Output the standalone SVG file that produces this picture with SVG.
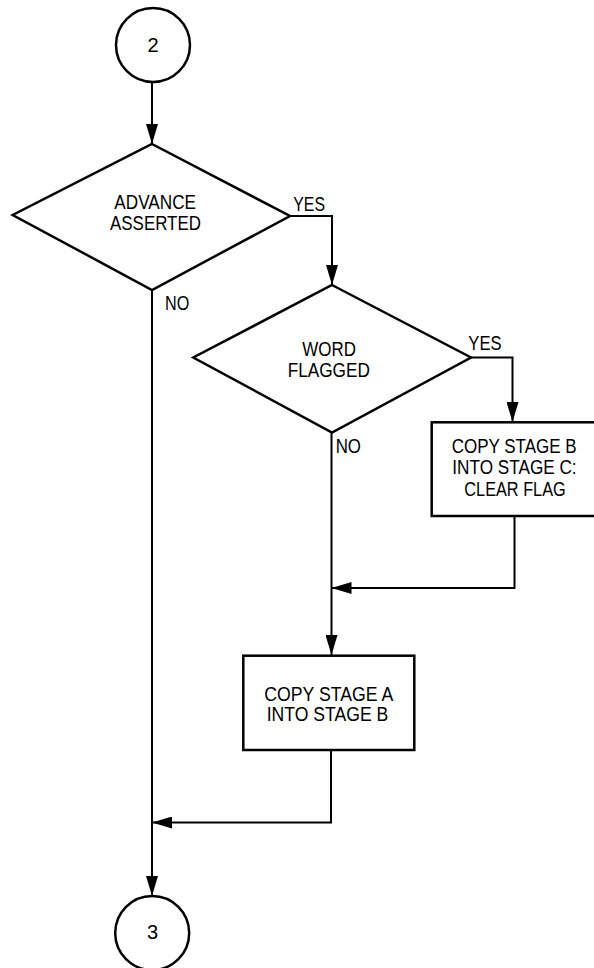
<svg xmlns="http://www.w3.org/2000/svg" width="594" height="968" viewBox="0 0 594 968">
<style>
.shape{fill:#fff;stroke:#000;stroke-width:2.5}
.conn{fill:none;stroke:#000;stroke-width:2}
text{font-family:"Liberation Sans",Arial,sans-serif;font-size:20px;fill:#000}
.c{text-anchor:middle}
</style>
<defs>
<marker id="arr" markerUnits="userSpaceOnUse" markerWidth="21" markerHeight="12" refX="20" refY="6" orient="auto">
<path d="M0,0 L20,6 L0,12 z" fill="#000"/>
</marker>
</defs>
<g id="connectors">
<path class="conn" d="M152,82 L152,144" marker-end="url(#arr)"/>
<path class="conn" d="M290,216 L332,216 L332,285" marker-end="url(#arr)"/>
<path class="conn" d="M152,290 L152,896" marker-end="url(#arr)"/>
<path class="conn" d="M471,357.5 L512.5,357.5 L512.5,422" marker-end="url(#arr)"/>
<path class="conn" d="M331.5,432.5 L331.5,655" marker-end="url(#arr)"/>
<path class="conn" d="M514.5,516 L514.5,588 L331.5,588" marker-end="url(#arr)"/>
<path class="conn" d="M331,750 L331,822.5 L152,822.5" marker-end="url(#arr)"/>
<text x="293.3" y="210.7" textLength="31.7" lengthAdjust="spacingAndGlyphs">YES</text>
<text x="165" y="310" textLength="24.3" lengthAdjust="spacingAndGlyphs">NO</text>
<text x="468.3" y="350" textLength="33.3" lengthAdjust="spacingAndGlyphs">YES</text>
<text x="335.7" y="453.3" textLength="25.3" lengthAdjust="spacingAndGlyphs">NO</text>
</g>
<g id="start">
<circle class="shape" cx="153" cy="45" r="37" stroke-width="2"/>
<text class="c" x="153" y="51.5">2</text>
</g>
<g id="advance">
<polygon class="shape" points="152,144 290,216 152,290 12.7,215"/>
<text class="c" x="155.2" y="208.5" textLength="81.7" lengthAdjust="spacingAndGlyphs">ADVANCE</text>
<text class="c" x="155.5" y="230" textLength="91" lengthAdjust="spacingAndGlyphs">ASSERTED</text>
</g>
<g id="flagged">
<polygon class="shape" points="332,285 471,357.5 332,432.5 193.3,357.5"/>
<text class="c" x="329.2" y="356" textLength="53.7" lengthAdjust="spacingAndGlyphs">WORD</text>
<text class="c" x="328.8" y="376.7" textLength="82.3" lengthAdjust="spacingAndGlyphs">FLAGGED</text>
</g>
<g id="copyBC">
<rect class="shape" x="431.7" y="422.3" width="165" height="93.7"/>
<text class="c" x="514.2" y="453.3" textLength="125" lengthAdjust="spacingAndGlyphs">COPY STAGE B</text>
<text class="c" x="514.5" y="474.3" textLength="124.3" lengthAdjust="spacingAndGlyphs">INTO STAGE C:</text>
<text class="c" x="515" y="495.7" textLength="101.3" lengthAdjust="spacingAndGlyphs">CLEAR FLAG</text>
</g>
<g id="copyAB">
<rect class="shape" x="243.3" y="655.7" width="171" height="94.3"/>
<text class="c" x="328.8" y="700.5" textLength="129" lengthAdjust="spacingAndGlyphs">COPY STAGE A</text>
<text class="c" x="327.5" y="721" textLength="121.7" lengthAdjust="spacingAndGlyphs">INTO STAGE B</text>
</g>
<g id="end">
<circle class="shape" cx="152.2" cy="933" r="37" stroke-width="2"/>
<text class="c" x="152.5" y="939">3</text>
</g>
</svg>
